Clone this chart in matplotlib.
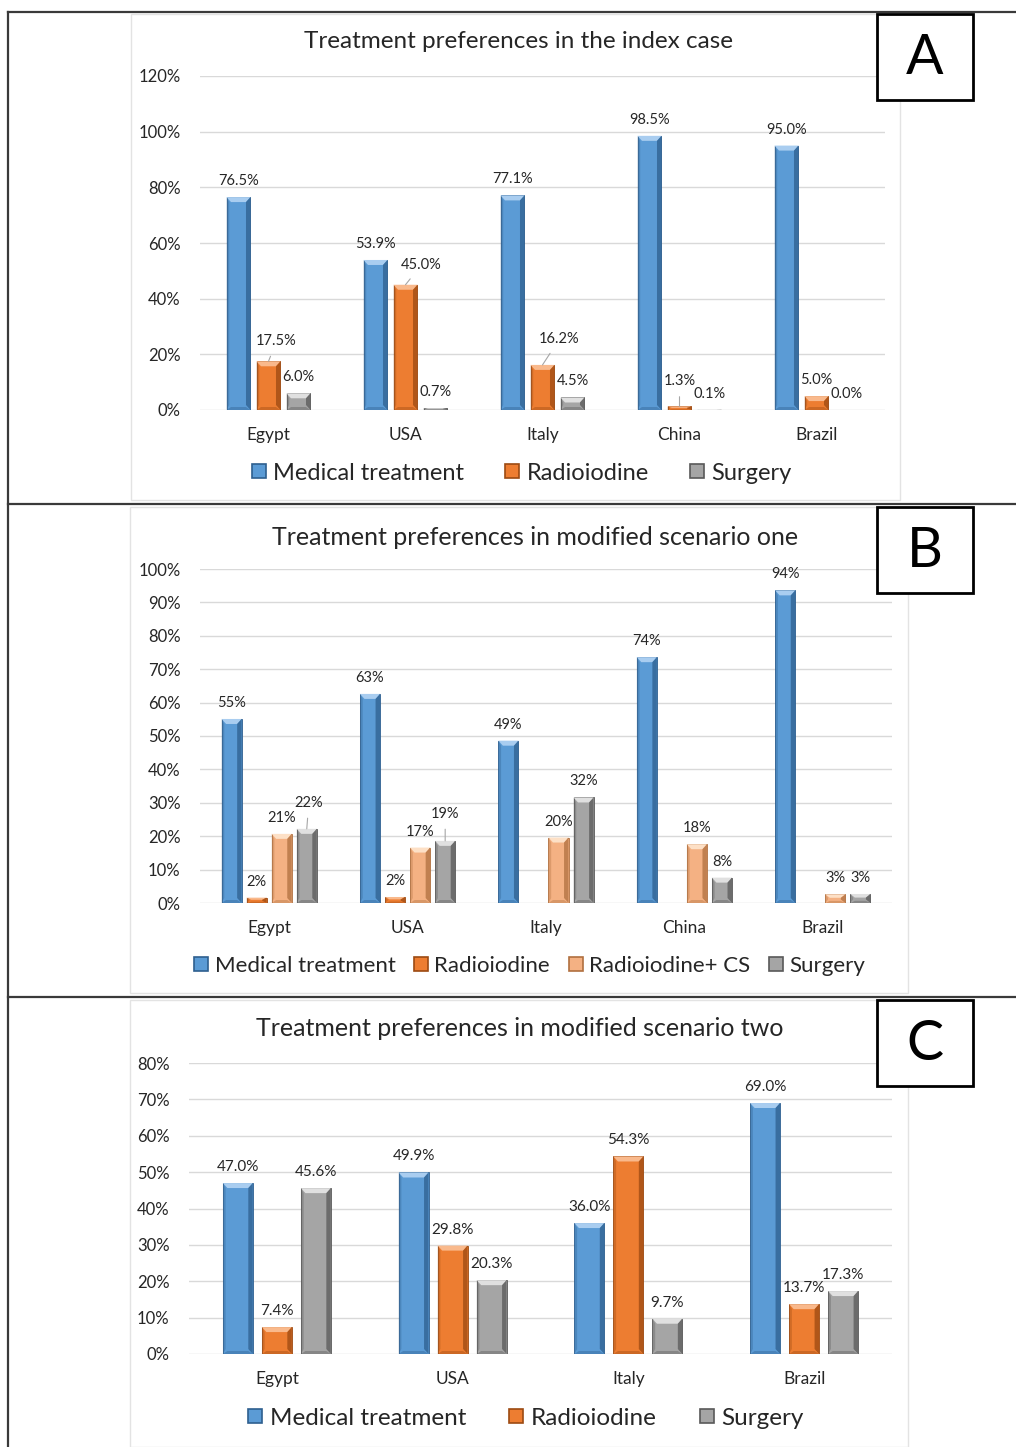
import matplotlib
matplotlib.use('Agg')
import matplotlib.pyplot as plt
import numpy as np
from matplotlib.patches import Rectangle, Polygon
from matplotlib.lines import Line2D
from matplotlib.ticker import FuncFormatter, MultipleLocator

plt.rcParams['font.family'] = ['Lato', 'DejaVu Sans']

# ---------------- data ----------------
series_a = ['Medical treatment', 'Radioiodine', 'Surgery']
countries_a = ['Egypt', 'USA', 'Italy', 'China', 'Brazil']
medical_a = [76.5, 53.9, 77.1, 98.5, 95.0]
radio_a = [17.5, 45.0, 16.2, 1.3, 5.0]
surgery_a = [6.0, 0.7, 4.5, 0.1, 0.0]

series_b = ['Medical treatment', 'Radioiodine', 'Radioiodine+ CS', 'Surgery']
countries_b = ['Egypt', 'USA', 'Italy', 'China', 'Brazil']
medical_b = [55.1, 62.6, 48.6, 73.6, 93.6]
radio_b = [1.6, 1.8, np.nan, np.nan, np.nan]
radio_cs_b = [20.7, 16.6, 19.6, 17.6, 2.6]
surgery_b = [22.2, 18.6, 31.6, 7.6, 2.7]

series_c = ['Medical treatment', 'Radioiodine', 'Surgery']
countries_c = ['Egypt', 'USA', 'Italy', 'Brazil']
medical_c = [47.0, 49.9, 36.0, 69.0]
radio_c = [7.4, 29.8, 54.3, 13.7]
surgery_c = [45.6, 20.3, 9.7, 17.3]

titles = ['Treatment preferences in the index case',
          'Treatment preferences in modified scenario one',
          'Treatment preferences in modified scenario two']
letters = ['A', 'B', 'C']

# ---------------- style ----------------
W, H = 1016, 1447
BLUE = ('#5B9BD5', '#A9CDF0', '#2E5F8F')
ORANGE = ('#ED7D31', '#F9B98C', '#9C4A12')
LORANGE = ('#F4B183', '#FDE0C6', '#B0703F')
GRAY = ('#A5A5A5', '#E0E0E0', '#595959')
GRID = '#D9D9D9'
TXT = '#262626'

fig = plt.figure(figsize=(W / 100, H / 100), dpi=100)
fig.patch.set_facecolor('white')


def fx(px):
    return px / W


def fy(py):
    return 1 - py / H


# outer frame lines
for yy in (12, 504, 997):
    fig.add_artist(Line2D([fx(8), 1.0], [fy(yy), fy(yy)], color='#3a3a3a', lw=1.6))
fig.add_artist(Line2D([fx(8), fx(8)], [fy(12), 0.0], color='#3a3a3a', lw=1.6))

# chart area boxes
for (l, t, r, b) in [(131, 14, 900, 500), (130, 507, 908, 993), (130, 1000, 908, 1447)]:
    fig.add_artist(Rectangle((fx(l), fy(b)), fx(r - l), (b - t) / H, transform=fig.transFigure,
                             facecolor='white', edgecolor='#E3E3E3', lw=1.0, zorder=0))


def bevel_bar(ax, x, w, h, cols, ppx, ppy):
    face, light, dark = cols
    if not np.isfinite(h) or h <= 0:
        return
    l, r = x - w / 2, x + w / 2
    bx = 4.5 * ppx
    by = min(5 * ppy, h / 2.5)
    ax.add_patch(Polygon([(l, h), (r, h), (r - bx, h - by), (l + bx, h - by)], closed=True,
                         facecolor=light, edgecolor='none', zorder=4))
    ax.add_patch(Polygon([(r, h), (r, 0), (r - bx, by if h > 2 * by else 0), (r - bx, h - by)],
                         closed=True, facecolor=dark, edgecolor='none', alpha=0.75, zorder=4))
    ax.add_patch(Polygon([(l, h), (l, 0), (l + bx * 0.6, by if h > 2 * by else 0), (l + bx * 0.6, h - by)],
                         closed=True, facecolor=dark, edgecolor='none', alpha=0.35, zorder=4))
    if h > 2 * by:
        ax.add_patch(Polygon([(l, 0), (r, 0), (r - bx, by * 0.6), (l + bx, by * 0.6)], closed=True,
                             facecolor=dark, edgecolor='none', alpha=0.4, zorder=4))


def panel(box, ylim, ystep, countries, values, colors, names, spacing, width, fmt,
          offsets, lab_fs, title, title_xy, title_fs, legend_xy, legend_fs, colsp, letter_box, letter):
    left, right, bottom, top = box
    ax = fig.add_axes([fx(left), fy(bottom), fx(right - left), (bottom - top) / H])
    ax.set_facecolor('none')
    n = len(countries)
    ax.set_xlim(-0.5, n - 0.5)
    ax.set_ylim(0, ylim)
    for s in ax.spines.values():
        s.set_visible(False)
    ax.yaxis.set_major_locator(MultipleLocator(ystep))
    ax.yaxis.set_major_formatter(FuncFormatter(lambda v, p: f'{v:.0f}%'))
    ax.grid(axis='y', color=GRID, lw=1.0, zorder=0)
    ax.set_axisbelow(True)
    ax.tick_params(axis='both', length=0, labelcolor=TXT)
    ax.tick_params(axis='y', labelsize=12, pad=14)
    ax.tick_params(axis='x', labelsize=12.5, pad=12)
    xs = np.arange(n)
    ax.set_xticks(xs)
    ax.set_xticklabels(countries)
    ppx = n / (right - left)
    ppy = ylim / (bottom - top)
    k = len(values)
    for i, (vals, cols, name) in enumerate(zip(values, colors, names)):
        pos = xs + (i - (k - 1) / 2) * spacing
        v = np.array(vals, dtype=float)
        ax.bar(pos, np.nan_to_num(v), width=width, color=cols[0], edgecolor=cols[2], lw=0.6,
               zorder=3, label=name)
        for j, (px_, h) in enumerate(zip(pos, v)):
            if not np.isfinite(h):
                continue
            bevel_bar(ax, px_, width, h, cols, ppx, ppy)
            dx, dy = offsets.get((i, j), (0, 16))
            lead = (i, j) in offsets and (abs(dx) > 4 or dy > 19)
            ax.annotate(fmt.format(h), xy=(px_, h), xytext=(dx, dy), textcoords='offset pixels',
                        ha='center', va='center', fontsize=lab_fs, color=TXT, zorder=6,
                        arrowprops=(dict(arrowstyle='-', color='#A6A6A6', lw=0.8, shrinkA=4, shrinkB=0)
                                    if lead else None))
    fig.text(fx(title_xy[0]), fy(title_xy[1]), title, ha='center', va='center',
             fontsize=title_fs, color=TXT)
    handles = [Line2D([], [], ls='none', marker='s', markersize=10, markerfacecolor=c[0],
                      markeredgecolor=c[2], markeredgewidth=1.2) for c in colors]
    fig.legend(handles, names, loc='center', bbox_to_anchor=(fx(legend_xy[0]), fy(legend_xy[1])),
               ncol=len(names), frameon=False, fontsize=legend_fs, handletextpad=0.15,
               columnspacing=colsp, handlelength=0.9, labelcolor=TXT)
    l, t, r, b = letter_box
    fig.add_artist(Rectangle((fx(l), fy(b)), fx(r - l), (b - t) / H, transform=fig.transFigure,
                             facecolor='white', edgecolor='black', lw=2.0, zorder=5))
    fig.text(fx((l + r) / 2), fy((t + b) / 2 + 1), letter, ha='center', va='center',
             fontsize=40, color='black', zorder=6)
    return ax


# Panel A
offsets_a = {(1, 0): (8, 20), (1, 1): (16, 20), (1, 2): (17, 26), (1, 3): (0, 25)}
panel((200, 885, 410, 76), 120, 20, countries_a, [medical_a, radio_a, surgery_a],
      [BLUE, ORANGE, GRAY], series_a, 0.219, 0.175, '{:.1f}%', offsets_a, 10.5,
      titles[0], (518, 41), 17.5, (520, 473), 17, 1.6, (877, 14, 973, 100), letters[0])

# Panel B
offsets_b = {(3, 0): (2, 26), (3, 1): (0, 27)}
panel((200, 892, 903, 569), 100, 10, countries_b, [medical_b, radio_b, radio_cs_b, surgery_b],
      [BLUE, ORANGE, LORANGE, GRAY], series_b, 0.181, 0.145, '{:.0f}%', offsets_b, 10.5,
      titles[1], (535, 538), 18, (528, 966), 16, 0.7, (877, 507, 973, 593), letters[1])

# Panel C
panel((189, 892, 1354, 1063), 80, 10, countries_c, [medical_c, radio_c, surgery_c],
      [BLUE, ORANGE, GRAY], series_c, 0.222, 0.17, '{:.1f}%', {}, 11,
      titles[2], (520, 1028), 18, (524, 1418), 17.5, 1.6, (877, 1000, 973, 1086), letters[2])

fig.savefig('out.png', dpi=100)
